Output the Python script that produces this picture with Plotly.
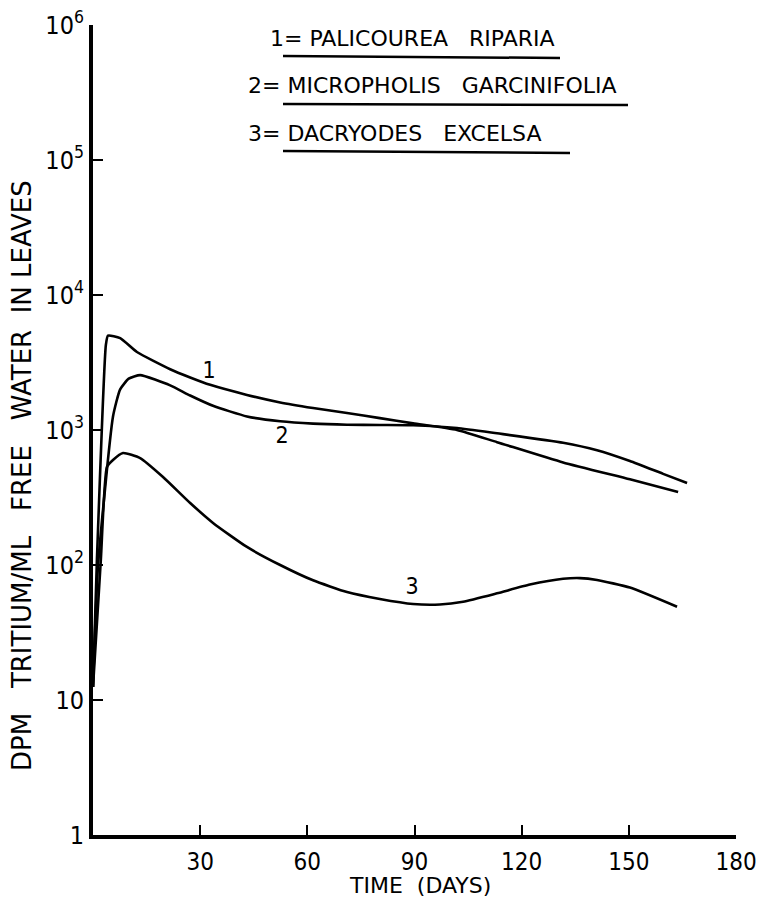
import plotly.graph_objects as go

# ---- data ----
days_1 = [0, 1.1, 3.6, 4.2, 7.6, 12.3, 21.6, 27.2, 32.8, 43.1, 52.4, 61.6, 71.1, 80.3, 89.6, 101.9, 113.1, 131.6, 150.3, 163.8]
dpm_1 = [12.5, 110, 4260, 5000, 4790, 3780, 2820, 2450, 2160, 1820, 1600, 1455, 1335, 1225, 1120, 1000, 813, 575, 431, 347]

days_2 = [0, 1.4, 5.6, 7.6, 10.0, 13.2, 21.6, 27.2, 33.6, 43.1, 52.4, 61.6, 71.1, 80.3, 89.6, 101.9, 113.1, 131.6, 141.1, 150.3, 159.6, 166.3]
dpm_2 = [12.5, 98, 1260, 2000, 2400, 2550, 2140, 1800, 1510, 1260, 1160, 1115, 1095, 1090, 1085, 1035, 945, 805, 708, 589, 473, 405]

days_3 = [0, 2.2, 3.9, 5.6, 8.4, 13.2, 19.6, 27.2, 33.6, 43.1, 52.4, 61.6, 71.1, 80.3, 89.6, 97.1, 103.6, 113.1, 122.3, 131.6, 136.3, 141.1, 150.3, 163.5]
dpm_3 = [12.5, 110, 532, 600, 676, 620, 449, 288, 205, 136, 100, 77, 63, 56, 51.4, 51, 53.5, 61.7, 71.6, 79, 80, 77.5, 68, 49]

curve_labels = ["1", "2", "3"]
label_days = [32.5, 52.9, 89.3]
label_dpm = [2690, 887, 67.5]

x_ticks = [30, 60, 90, 120, 150, 180]
y_ticks = [1, 10, 100, 1000, 10000, 100000, 1000000]
y_ticktext = ["1", "10", "10<sup>2</sup>", "10<sup>3</sup>", "10<sup>4</sup>", "10<sup>5</sup>", "10<sup>6</sup>"]

species = ["1= PALICOUREA\u00a0\u00a0 RIPARIA", "2= MICROPHOLIS\u00a0\u00a0 GARCINIFOLIA", "3= DACRYODES\u00a0\u00a0 EXCELSA"]

# ---- layout geometry ----
W, H = 759, 897
L, R, T, B = 93, 23, 25, 62
PW, PH = W - L - R, H - T - B


def px(xp):
    return (xp - L) / PW


def py(yp):
    return (H - B - yp) / PH


FONT = "DejaVu Sans Condensed, DejaVu Sans, sans-serif"
LFONT = "DejaVu Sans, sans-serif"

fig = go.Figure()
for xs, ys in [(days_1, dpm_1), (days_2, dpm_2), (days_3, dpm_3)]:
    fig.add_trace(go.Scatter(x=xs, y=ys, mode="lines",
                             line=dict(color="black", width=2.6, shape="spline", smoothing=0.5),
                             showlegend=False, hoverinfo="skip"))

fig.add_trace(go.Scatter(x=label_days, y=label_dpm, mode="text", text=curve_labels,
                         textfont=dict(family=FONT, size=23, color="black"),
                         showlegend=False, hoverinfo="skip"))

annotations = []
leg_x = [268, 246, 246]
leg_y = [38, 86, 134]
for s, xx, yy in zip(species, leg_x, leg_y):
    annotations.append(dict(text=s, x=px(xx), y=py(yy), xref="paper", yref="paper",
                            xanchor="left", yanchor="middle", showarrow=False,
                            font=dict(family=LFONT, size=22, color="black")))

annotations.append(dict(text="TIME\u00a0\u00a0(DAYS)", x=px(420), y=py(886), xref="paper", yref="paper",
                        xanchor="center", yanchor="middle", showarrow=False,
                        font=dict(family=LFONT, size=22, color="black")))
annotations.append(dict(text="DPM\u00a0\u00a0 TRITIUM/ML\u00a0\u00a0 FREE\u00a0\u00a0 WATER\u00a0 IN LEAVES",
                        x=px(22), y=py(476),
                        xref="paper", yref="paper", xanchor="center", yanchor="middle",
                        textangle=-90, showarrow=False,
                        font=dict(family=LFONT, size=26, color="black")))

shapes = []
for (x0, y0, x1, y1) in [(283, 56, 560, 58), (283, 104, 628, 105), (283, 151, 570, 153)]:
    shapes.append(dict(type="line", xref="paper", yref="paper", x0=px(x0), y0=py(y0), x1=px(x1), y1=py(y1),
                       line=dict(color="black", width=2.5)))

fig.update_layout(
    width=W, height=H,
    margin=dict(l=L, r=R, t=T, b=B),
    paper_bgcolor="white", plot_bgcolor="white",
    annotations=annotations, shapes=shapes,
    xaxis=dict(range=[0, 180], tickvals=x_ticks, ticks="inside", ticklen=10, tickwidth=2,
               tickcolor="black", showline=True, linewidth=4, linecolor="black",
               showgrid=False, zeroline=False, automargin=False, ticklabelstandoff=2,
               tickfont=dict(family=FONT, size=24, color="black")),
    yaxis=dict(type="log", range=[0, 6], tickvals=y_ticks, ticktext=y_ticktext,
               ticks="inside", ticklen=10, tickwidth=2, tickcolor="black",
               showline=True, linewidth=4, linecolor="black",
               showgrid=False, zeroline=False, automargin=False,
               tickfont=dict(family=FONT, size=25, color="black")),
)

fig.write_html("out.html")
